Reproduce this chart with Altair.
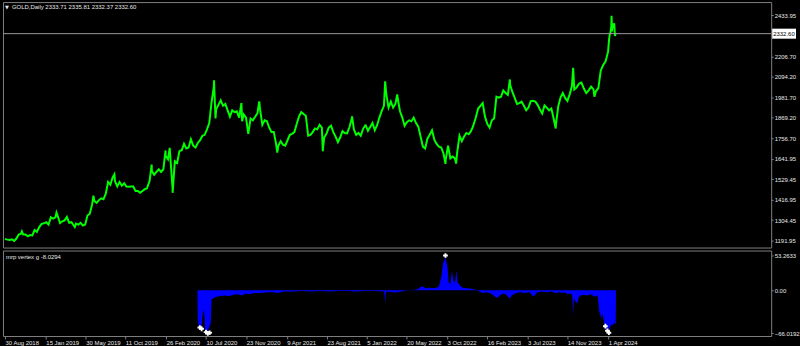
import altair as alt
import pandas as pd
import numpy as np

# ---------------- price readings (GOLD, Daily), spread evenly inside each span ----
gold_2018 = [1201, 1197, 1195, 1199, 1190, 1203, 1225, 1230, 1225, 1225, 1215, 1222,
             1220, 1250, 1240, 1265, 1282]
gold_2019 = [1284, 1287, 1293, 1280, 1320, 1313, 1320, 1327, 1288, 1298, 1303, 1322,
             1290, 1293, 1275, 1285, 1280, 1290, 1275, 1280, 1330, 1340, 1390, 1410,
             1400, 1415, 1425, 1420, 1450, 1515, 1500, 1540, 1520, 1490, 1515, 1495,
             1508, 1490, 1488, 1490, 1490, 1465, 1465, 1455, 1465, 1475, 1480, 1517]
gold_2020 = [1520, 1575, 1555, 1570, 1585, 1570, 1585, 1660, 1640, 1660, 1480, 1630,
             1620, 1685, 1690, 1725, 1700, 1705, 1750, 1715, 1705, 1730, 1745, 1770,
             1775, 1805, 1840, 1955, 2040, 1915, 1940, 1965, 1935, 1945, 1910, 1875,
             1910, 1900, 1905, 1870, 1950, 1888, 1870, 1780, 1865, 1855, 1875, 1895]
gold_2021 = [1905, 1915, 1830, 1855, 1850, 1815, 1790, 1790, 1725, 1715, 1740, 1720,
             1715, 1745, 1775, 1780, 1790, 1835, 1875, 1900, 1890, 1880, 1770, 1775,
             1790, 1810, 1805, 1830, 1815, 1760, 1780, 1815, 1825, 1790, 1765, 1735,
             1760, 1795, 1785, 1783, 1815, 1860, 1805, 1775, 1785, 1770, 1808, 1828]
gold_2022 = [1828, 1797, 1818, 1840, 1800, 1828, 1870, 1905, 1935, 2000, 1925, 1958,
             1925, 1945, 1975, 1905, 1870, 1825, 1845, 1855, 1850, 1870, 1840, 1820,
             1765, 1710, 1700, 1755, 1775, 1800, 1748, 1725, 1710, 1705, 1672, 1640,
             1715, 1645, 1655, 1645, 1680, 1770, 1740, 1765, 1785, 1778, 1795, 1824]
gold_2023 = [1830, 1870, 1920, 1935, 1950, 1875, 1835, 1815, 1855, 1865, 1985, 1980,
             1985, 2020, 2005, 1995, 2050, 2010, 1978, 1945, 1950, 1958, 1935, 1910,
             1925, 1960, 1962, 1958, 1940, 1915, 1893, 1937, 1925, 1910, 1920, 1865,
             1832, 1932, 1980, 2005, 1978, 1962, 1998, 2045, 2025, 2035, 2055, 2063]
gold_2024_q1 = [2063, 2030, 2005, 2020, 2040, 2025, 2015, 2032, 2130, 2160, 2180, 2232]
gold_2024_apr = [2250, 2300, 2330, 2340, 2372, 2345, 2383, 2380, 2390, 2320, 2335]

# intraday extremes
spike_dates = ["2018-10-26", "2019-02-20", "2019-04-23", "2019-06-25", "2019-09-04",
               "2020-01-08", "2020-02-24", "2020-03-09", "2020-03-19", "2020-08-06",
               "2020-08-11", "2020-11-09", "2021-01-06", "2021-03-08", "2021-08-09",
               "2021-11-16", "2022-03-08", "2022-04-18", "2022-09-28", "2022-11-03",
               "2023-05-04", "2023-10-06", "2023-12-04", "2024-02-14", "2024-04-12"]
spike_values = [1243, 1346, 1266, 1439, 1557,
                1611, 1689, 1703, 1455, 2075,
                1865, 1850, 1959, 1677, 1685,
                1877, 2070, 1998, 1615, 1616,
                2080, 1810, 2145, 1985, 2431]

price_spans = [("2018-08-30", "2018-12-31", gold_2018),
               ("2019-01-01", "2019-12-31", gold_2019),
               ("2020-01-01", "2020-12-31", gold_2020),
               ("2021-01-01", "2021-12-31", gold_2021),
               ("2022-01-01", "2022-12-31", gold_2022),
               ("2023-01-01", "2023-12-31", gold_2023),
               ("2024-01-01", "2024-03-31", gold_2024_q1),
               ("2024-04-01", "2024-04-26", gold_2024_apr)]

# ---------------- indicator "mrp vertex g" readings ----------------
ind_dates = ["2020-06-11", "2020-06-12", "2020-06-16", "2020-06-19", "2020-06-22", "2020-06-25",
             "2020-06-28", "2020-07-01", "2020-07-04", "2020-07-07", "2020-07-10", "2020-07-14",
             "2020-07-18", "2020-07-22", "2020-07-26", "2020-07-29", "2020-08-05", "2020-08-15",
             "2020-08-25", "2020-09-10", "2020-09-25", "2020-10-10", "2020-10-25", "2020-11-10",
             "2020-11-20", "2020-12-05", "2020-12-20", "2021-01-10", "2021-02-01", "2021-02-20",
             "2021-03-10", "2021-04-01", "2021-05-01", "2021-06-01", "2021-07-01", "2021-08-01",
             "2021-09-01", "2021-10-01", "2021-11-01", "2021-12-01", "2022-01-01", "2022-02-01",
             "2022-03-05", "2022-03-08", "2022-03-11", "2022-04-01", "2022-04-20", "2022-05-10",
             "2022-06-01", "2022-06-20", "2022-07-01", "2022-07-08", "2022-07-15", "2022-07-25",
             "2022-08-05", "2022-08-20", "2022-09-05", "2022-09-14", "2022-09-20", "2022-09-25",
             "2022-09-28", "2022-10-01", "2022-10-05", "2022-10-09", "2022-10-15", "2022-10-20",
             "2022-10-25", "2022-10-30", "2022-11-04", "2022-11-08", "2022-11-15", "2022-11-25",
             "2022-12-10", "2022-12-30", "2023-01-13", "2023-01-25", "2023-02-01", "2023-02-15",
             "2023-03-01", "2023-03-15", "2023-03-22", "2023-03-31", "2023-04-10", "2023-04-20",
             "2023-05-04", "2023-05-10", "2023-05-25", "2023-06-10", "2023-06-25", "2023-07-10",
             "2023-07-23", "2023-08-05", "2023-08-20", "2023-09-05", "2023-09-20", "2023-10-05",
             "2023-10-18", "2023-10-28", "2023-11-05", "2023-11-15", "2023-11-25", "2023-12-01",
             "2023-12-04", "2023-12-07", "2023-12-12", "2023-12-18", "2023-12-24", "2024-01-05",
             "2024-01-20", "2024-02-01", "2024-02-15", "2024-02-25", "2024-03-01", "2024-03-05",
             "2024-03-08", "2024-03-11", "2024-03-14", "2024-03-18", "2024-03-22", "2024-03-26",
             "2024-03-30", "2024-04-03", "2024-04-08", "2024-04-12", "2024-04-16", "2024-04-20",
             "2024-04-26", "2024-04-27"]
ind_values = [0, -45, -55, -58, -52, -60,
              -40, -30, -35, -62, -66, -64,
              -60, -55, -50, -14, -12, -10,
              -9, -8, -9, -7, -6, -8,
              -5, -6, -4, -4, -3, -3,
              -4, -2, -2, -1, -2, -1,
              -2, -1, -1, -2, -1, -1,
              -2, -20, -2, -3, -3, -1,
              0.5, 1, 3, 6, 5, 3,
              4, 3, 5, 20, 42, 46,
              53.26, 44, 35, 12, 10, 30,
              14, 12, 30, 12, 8, 4,
              3, 2, 0, -3, -4, -3,
              -5, -10, -12, -8, -5, -6,
              -13, -8, -4, -3, -4, -3,
              -10, -3, -2, -3, -2, -4,
              -3, -4, -3, -6, -5, -8,
              -38, -12, -18, -20, -9, -7,
              -8, -6, -10, -8, -32, -38,
              -44, -35, -40, -50, -58, -60,
              -62, -60, -55, -52, -54, -50,
              -52, 0]

star_dates = ["2020-06-19", "2020-06-25", "2020-07-10", "2020-07-16", "2020-07-22",
              "2022-09-28", "2024-03-22", "2024-03-29", "2024-04-03"]
star_values = [-57, -59, -64, -66, -65, 53.26, -55, -62, -65]

# ---------------- axis texts ----------------
price_ticks = [2433.95, 2206.70, 2094.20, 1981.70, 1869.20, 1756.70, 1641.95,
               1529.45, 1416.95, 1304.45, 1191.95]
current_price = 2332.60
ind_ticks = [53.2633, 0.0, -66.0192]
tick_dates = ["2018-08-30", "2019-01-15", "2019-05-30", "2019-10-11", "2020-02-26",
              "2020-07-10", "2020-11-23", "2021-04-09", "2021-08-23", "2022-01-05",
              "2022-05-20", "2022-10-03", "2023-02-16", "2023-07-03", "2023-11-14",
              "2024-04-01"]
title_main = "GOLD,Daily  2333.71 2335.81 2332.37 2332.60"
title_ind = "mrp vertex g -8.0294"


def ms(d):
    return int(pd.Timestamp(d).value // 10**6)


rows = []
for start, end, vals in price_spans:
    ts = np.linspace(ms(start), ms(end), len(vals))
    rows += [{"t": float(t), "price": v} for t, v in zip(ts, vals)]
rows += [{"t": float(ms(d)), "price": v} for d, v in zip(spike_dates, spike_values)]
price_df = pd.DataFrame(rows).sort_values("t")

ind_df = pd.DataFrame({"t": [float(ms(d)) for d in ind_dates], "v": ind_values})
star_df = pd.DataFrame({"t": [float(ms(d)) for d in star_dates], "v": star_values})

FONT = "Liberation Sans"
GRAY = "#808080"
LBL = "#e8e8e8"

xscale = alt.Scale(type="utc", domain=[ms("2018-08-23"), ms("2025-10-04")])
pscale = alt.Scale(domain=[1153.4, 2506.8], nice=False, zero=False)
iscale = alt.Scale(domain=[-70.0, 60.9], nice=False, zero=False)

price_axis = alt.Axis(orient="right", values=price_ticks, format=".2f", title=None,
                      grid=False, domain=False, tickSize=2, tickColor=GRAY,
                      labelPadding=1, labelFont=FONT, labelFontSize=6,
                      labelColor=LBL, labelOverlap=False, labelFlush=False,
                      labelBound=False)
ind_axis = alt.Axis(orient="right", values=ind_ticks, title=None, grid=False,
                    domain=False, tickSize=2, tickColor=GRAY, labelPadding=1,
                    labelExpr="datum.value == 0 ? '0.00' : format(datum.value, '.4f')",
                    labelFont=FONT, labelFontSize=6, labelColor=LBL,
                    labelOverlap=False, labelFlush=False, labelBound=False)
date_axis = alt.Axis(values=[ms(d) for d in tick_dates],
                     labelExpr="utcFormat(datum.value, '%-d %b %Y')",
                     labelAlign="left", labelPadding=1, tickSize=3, tickColor=GRAY,
                     grid=False, domain=False, title=None, labelFont=FONT,
                     labelFontSize=6, labelColor=LBL, labelOverlap=False,
                     labelFlush=False, labelBound=False)

W = 773

price_line = alt.Chart(price_df).mark_line(color="#00ff00", strokeWidth=2).encode(
    x=alt.X("t:T", scale=xscale, axis=None),
    y=alt.Y("price:Q", scale=pscale, axis=price_axis),
)

cur_df = pd.DataFrame({"price": [current_price], "label": ["%.2f" % current_price]})
cur_rule = alt.Chart(cur_df).mark_rule(color="#9a9a9a", strokeWidth=1).encode(
    y=alt.Y("price:Q", scale=pscale, axis=price_axis))
cur_box = alt.Chart(cur_df).mark_point(
    shape="M-1,-0.42L1,-0.42L1,0.42L-1,0.42Z", filled=True, color="white",
    opacity=1, size=576).encode(x=alt.value(786),
                                y=alt.Y("price:Q", scale=pscale, axis=price_axis))
cur_txt = alt.Chart(cur_df).mark_text(
    align="left", baseline="middle", font=FONT, fontSize=6, color="black").encode(
    x=alt.value(775), y=alt.Y("price:Q", scale=pscale, axis=price_axis), text="label:N")

ttl_df = pd.DataFrame({"label": [title_main], "tri": ["\u25bc"]})
ttl = alt.Chart(ttl_df).mark_text(
    align="left", baseline="middle", font=FONT, fontSize=6, color=LBL).encode(
    x=alt.value(9), y=alt.value(5), text="label:N")
tri = alt.Chart(ttl_df).mark_text(
    align="left", baseline="middle", font="DejaVu Sans", fontSize=5, color=LBL).encode(
    x=alt.value(2), y=alt.value(5), text="tri:N")

upper = alt.layer(price_line, cur_rule, cur_box, cur_txt, ttl, tri).properties(
    width=W, height=247)

ind_area = alt.Chart(ind_df).mark_area(color="#0000ff", opacity=1, interpolate="linear").encode(
    x=alt.X("t:T", scale=xscale, axis=date_axis),
    y=alt.Y("v:Q", scale=iscale, axis=ind_axis),
    y2=alt.datum(0),
)
stars = alt.Chart(star_df).mark_point(shape="cross", filled=True, color="white",
                                      opacity=1, size=22).encode(
    x=alt.X("t:T", scale=xscale, axis=date_axis),
    y=alt.Y("v:Q", scale=iscale, axis=ind_axis))
ind_ttl_df = pd.DataFrame({"label": [title_ind]})
ind_ttl = alt.Chart(ind_ttl_df).mark_text(
    align="left", baseline="middle", font=FONT, fontSize=6, color=LBL).encode(
    x=alt.value(3), y=alt.value(7), text="label:N")

lower = alt.layer(ind_area, stars, ind_ttl).properties(width=W, height=86)

chart = alt.vconcat(upper, lower, spacing=1).properties(
    background="black", padding=0
).configure_view(stroke=GRAY, strokeWidth=1).configure_concat(spacing=1)

chart.save("out.html", embed_options={"renderer": "svg", "actions": False})
